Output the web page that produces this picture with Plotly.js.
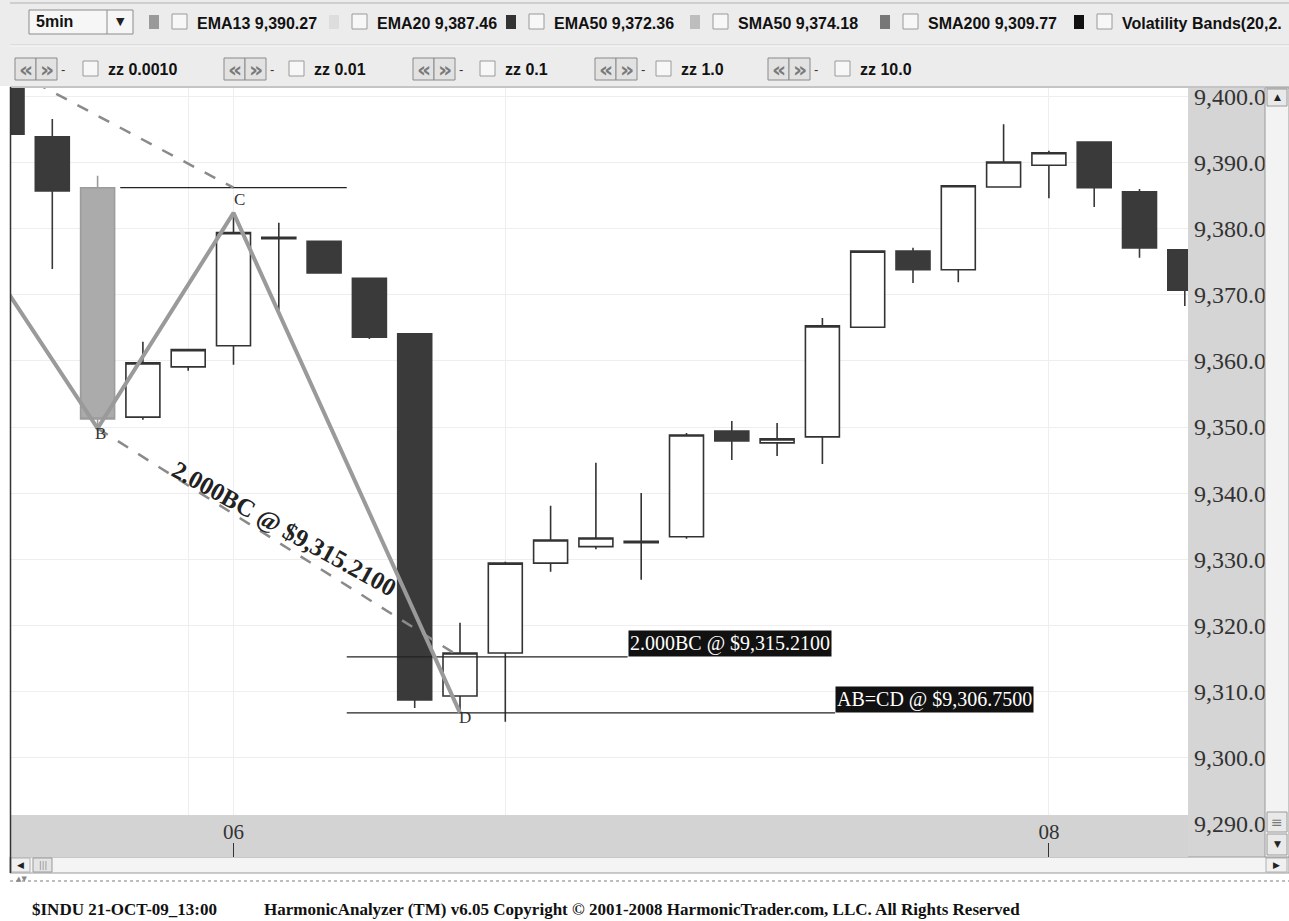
<!DOCTYPE html>
<html>
<head>
<meta charset="utf-8">
<script src="https://cdn.plot.ly/plotly-3.0.1.min.js"></script>
<style>
html,body{margin:0;padding:0;background:#ffffff;overflow:hidden;}
#chart{width:1289px;height:921px;}
</style>
</head>
<body>
<div id="chart"></div>
<script>
// ---------------- DATA ----------------
const barIndex = [0,1,2,3,4,5,6,7,8,9,10,11,12,13,14,15,16,17,18,19,20,21,22,23,24,25,26];
const openPx  = [9403.0,9393.9,9386.2,9351.5,9359.1,9362.3,9378.5,9378.1,9372.5,9364.1,9309.3,9315.8,9329.4,9331.9,9332.5,9333.4,9349.4,9347.6,9348.5,9365.1,9376.6,9373.8,9386.3,9389.6,9393.1,9385.6,9376.8];
const highPx  = [9404.0,9396.6,9388.0,9362.9,9361.7,9382.4,9380.9,9378.1,9372.5,9364.1,9320.4,9329.6,9338.1,9344.6,9340.0,9349.1,9350.9,9350.6,9366.5,9376.6,9377.1,9386.5,9395.8,9391.8,9393.1,9386.0,9376.8];
const lowPx   = [9394.3,9373.9,9349.8,9351.1,9358.5,9359.4,9367.7,9373.2,9363.3,9307.5,9306.7,9305.4,9328.1,9331.5,9326.9,9333.1,9345.0,9345.6,9344.4,9365.1,9371.8,9371.9,9386.3,9384.6,9383.3,9375.6,9368.3];
const closePx = [9394.3,9385.7,9351.2,9359.7,9361.7,9379.4,9378.7,9373.3,9363.6,9308.7,9315.8,9329.4,9332.9,9333.2,9332.7,9348.8,9347.9,9348.2,9365.3,9376.6,9373.8,9386.5,9390.1,9391.5,9386.2,9377.1,9370.7];
const highlightBar = 2;

const timeTickBars = [5, 23];
const timeTickLabels = ['06', '08'];
const extraGridBars = [4, 11];
const priceTicks = [9290,9300,9310,9320,9330,9340,9350,9360,9370,9380,9390,9400];

// harmonic pattern pivots
const pivotNames  = ['A', 'B', 'C', 'D'];
const pivotBars   = [-5, 2, 5, 10];
const pivotPrices = [9422.5, 9349.8, 9382.4, 9306.75];

// dashed guide lines
const upperGuideBars = [-5, 5];
const upperGuidePrices = [9422.5, 9386.2];
const lowerGuideBars = [2, 10];
const lowerGuidePrices = [9349.8, 9315.21];

// level lines
const topLevelBars = [2.5, 7.5];
const topLevelPrice = 9386.2;
const bcLevelBars = [7.5, 13.7];
const bcLevelPrice = 9315.21;
const abcdLevelBars = [7.5, 18.28];
const abcdLevelPrice = 9306.75;
const bcLabel = '2.000BC @ $9,315.2100';
const abcdLabel = 'AB=CD @ $9,306.7500';

// toolbar texts
const intervalLabel = '5min';
const indicatorNames  = ['EMA13', 'EMA20', 'EMA50', 'SMA50', 'SMA200', 'Volatility Bands(20,2.'];
const indicatorValues = ['9,390.27', '9,387.46', '9,372.36', '9,374.18', '9,309.77', ''];
const zigzagLabels = ['zz 0.0010', 'zz 0.01', 'zz 0.1', 'zz 1.0', 'zz 10.0'];
const footerLeft = '$INDU 21-OCT-09_13:00';
const footerRight = 'HarmonicAnalyzer (TM) v6.05 Copyright \u00A9 2001-2008 HarmonicTrader.com, LLC. All Rights Reserved';

// ---------------- LAYOUT GEOMETRY ----------------
const W = 1289, H = 921;
const L = 10, R = 1188, T = 88, B = 857;
const BAND_TOP = 815;
const X0PX = 7, PXBAR = 45.3;
const Y9400 = 96.5, PXUNIT = 6.61;
const yAt = py => 9400 - (py - Y9400) / PXUNIT;
const xr = [(L - X0PX) / PXBAR, (R - X0PX) / PXBAR];
const yr = [yAt(B), yAt(T)];

const fx = x => (x - L) / (R - L);
const fy = y => (B - y) / (B - T);

const shapes = [];
const annotations = [];

function rect(x0, y0, x1, y1, fill, lineColor, lw, layer) {
  shapes.push({type:'rect', xref:'paper', yref:'paper',
    x0:fx(x0), x1:fx(x1), y0:fy(y1), y1:fy(y0),
    fillcolor:fill, line:{color:lineColor || fill, width:(lw == null ? 1 : lw)},
    layer: layer || 'below'});
}
function seg(x0, y0, x1, y1, color, lw, dash, layer) {
  shapes.push({type:'line', xref:'paper', yref:'paper',
    x0:fx(x0), x1:fx(x1), y0:fy(y0), y1:fy(y1),
    line:{color:color, width:lw, dash:dash || 'solid'}, layer: layer || 'below'});
}
function label(x, y, txt, o) {
  o = o || {};
  annotations.push({xref:'paper', yref:'paper', x:fx(x), y:fy(y), text:txt,
    showarrow:false, xanchor:o.xanchor || 'left', yanchor:'middle',
    font:{family:o.family || 'Liberation Sans', size:o.size || 16, color:o.color || '#111'}});
}

// ---- toolbar ----
rect(0, 0, W, 86, '#ececec', '#ececec', 0);
seg(10, 3, W, 3, '#b0b0b0', 1);
seg(10, 45, W, 45, '#cfcfcf', 1);
seg(10, 46, W, 46, '#fafafa', 1);
seg(10, 87, W, 87, '#8a8a8a', 1);

// row 1
const ROW1 = 22;
rect(29, 10, 133, 34, '#f6f6f6', '#8c8c8c', 1);
seg(107, 10, 107, 34, '#8c8c8c', 1);
label(120, ROW1, '\u25BC', {xanchor:'center', size:11, color:'#222', family:'DejaVu Sans'});
label(34, ROW1, '<b>' + intervalLabel + '</b>', {size:16});

const indicatorColors = ['#9a9a9a', '#dddddd', '#333333', '#bdbdbd', '#777777', '#111111'];
const indicatorTextX = [195, 375, 552, 736, 926, 1120];
for (let i = 0; i < indicatorNames.length; i++) {
  const tx = indicatorTextX[i];
  rect(tx - 46, 15, tx - 36, 29, indicatorColors[i], indicatorColors[i], 0);
  rect(tx - 23, 14, tx - 8, 29, '#f7f7f7', '#9a9a9a', 1);
  const t = indicatorValues[i] ? indicatorNames[i] + ' ' + indicatorValues[i] : indicatorNames[i];
  label(tx, ROW1 + 1, '<b>' + t + '</b>', {size:16});
}

// row 2
const ROW2 = 69;
const zzButtonX = [15, 224, 413, 595, 768];
const zzTextX = [106, 312, 503, 679, 858];
for (let i = 0; i < zigzagLabels.length; i++) {
  const bx = zzButtonX[i];
  rect(bx, 58, bx + 21, 80, '#e2e2e2', '#8a8a8a', 1);
  rect(bx + 21, 58, bx + 42, 80, '#e2e2e2', '#8a8a8a', 1);
  label(bx + 10.5, ROW2, '<b>\u00AB</b>', {xanchor:'center', size:22, color:'#7a7a7a', family:'DejaVu Sans'});
  label(bx + 31.5, ROW2, '<b>\u00BB</b>', {xanchor:'center', size:22, color:'#7a7a7a', family:'DejaVu Sans'});
  label(bx + 44, ROW2 + 1, '-', {size:13, color:'#333'});
  const tx = zzTextX[i];
  rect(tx - 23, 61, tx - 8, 76, '#f7f7f7', '#9a9a9a', 1);
  label(tx, ROW2, '<b>' + zigzagLabels[i] + '</b>', {size:16});
}

// ---- right price panel & scrollbars ----
rect(R, T, 1265, B, '#d5d5d5', '#d5d5d5', 0);
rect(1265, T, W, B, '#f3f3f3', '#9a9a9a', 1, 'above');
rect(1267, 89, 1287, 106, '#e9e9e9', '#9a9a9a', 1, 'above');
label(1277, 97, '\u25B2', {xanchor:'center', size:9, color:'#222', family:'DejaVu Sans'});
rect(1267, 812, 1287, 832, '#e9e9e9', '#9a9a9a', 1, 'above');
label(1277, 822, '\u2261', {xanchor:'center', size:14, color:'#777', family:'DejaVu Sans'});
rect(1267, 834, 1287, 855, '#e9e9e9', '#9a9a9a', 1, 'above');
label(1277, 844, '\u25BC', {xanchor:'center', size:9, color:'#222', family:'DejaVu Sans'});

// bottom scrollbar
rect(L, B, W, 873, '#f4f4f4', '#9a9a9a', 1);
rect(11, 858, 30, 872, '#f0f0f0', '#b0b0b0', 1);
label(20, 865, '\u25C0', {xanchor:'center', size:9, color:'#222', family:'DejaVu Sans'});
rect(33, 858, 52, 872, '#e4e4e4', '#9a9a9a', 1);
label(42.5, 865, '|||', {xanchor:'center', size:8, color:'#888', family:'DejaVu Sans'});
rect(1266, 858, 1287, 872, '#f0f0f0', '#b0b0b0', 1);
label(1276, 865, '\u25B6', {xanchor:'center', size:9, color:'#222', family:'DejaVu Sans'});

// divider
seg(L, 881, W, 881, '#a8a8a8', 1.5, 'dot');
label(14, 879, '\u25B2\u25BC', {size:7, color:'#888', family:'DejaVu Sans'});

// left frame
seg(10.5, T - 1, 10.5, 873, '#333333', 1.5, 'solid', 'above');

// footer
label(30, 909, '<b>' + footerLeft + '</b>', {size:17, family:'Liberation Serif', color:'#111'});
label(262, 909, '<b>' + footerRight + '</b>', {size:17, family:'Liberation Serif', color:'#111'});

// x band (between grid & traces)
shapes.push({type:'rect', xref:'x', yref:'y', layer:'between',
  x0:xr[0], x1:xr[1], y0:yr[0], y1:yAt(BAND_TOP),
  fillcolor:'#d3d3d3', line:{width:0}});

// ---------------- TRACES ----------------
const keep = barIndex.map((b, i) => i).filter(i => barIndex[i] !== highlightBar);
const hi = barIndex.indexOf(highlightBar);
const pick = (arr, idx) => idx.map(i => arr[i]);

const traces = [];
traces.push({
  type:'candlestick', x:pick(barIndex, keep),
  open:pick(openPx, keep), high:pick(highPx, keep), low:pick(lowPx, keep), close:pick(closePx, keep),
  increasing:{line:{color:'#333333', width:1.6}, fillcolor:'#ffffff'},
  decreasing:{line:{color:'#3a3a3a', width:1.6}, fillcolor:'#3a3a3a'},
  whiskerwidth:0, hoverinfo:'skip', showlegend:false
});
traces.push({
  type:'candlestick', x:[barIndex[hi]],
  open:[openPx[hi]], high:[highPx[hi]], low:[lowPx[hi]], close:[closePx[hi]],
  increasing:{line:{color:'#9c9c9c', width:1.6}, fillcolor:'#ababab'},
  decreasing:{line:{color:'#9c9c9c', width:1.6}, fillcolor:'#ababab'},
  whiskerwidth:0, hoverinfo:'skip', showlegend:false
});
// level lines
traces.push({type:'scatter', mode:'lines', x:topLevelBars, y:[topLevelPrice, topLevelPrice],
  line:{color:'#222', width:1.2}, hoverinfo:'skip', showlegend:false});
traces.push({type:'scatter', mode:'lines', x:bcLevelBars, y:[bcLevelPrice, bcLevelPrice],
  line:{color:'#222', width:1.3}, hoverinfo:'skip', showlegend:false});
traces.push({type:'scatter', mode:'lines', x:abcdLevelBars, y:[abcdLevelPrice, abcdLevelPrice],
  line:{color:'#222', width:1.3}, hoverinfo:'skip', showlegend:false});
// dashed guides
traces.push({type:'scatter', mode:'lines', x:upperGuideBars, y:upperGuidePrices,
  line:{color:'#8a8a8a', width:2.5, dash:'12px,12px'}, hoverinfo:'skip', showlegend:false});
traces.push({type:'scatter', mode:'lines', x:lowerGuideBars, y:lowerGuidePrices,
  line:{color:'#8a8a8a', width:2.5, dash:'12px,12px'}, hoverinfo:'skip', showlegend:false});
// zigzag pattern
traces.push({type:'scatter', mode:'lines', x:pivotBars, y:pivotPrices,
  line:{color:'#9a9a9a', width:4}, hoverinfo:'skip', showlegend:false});

// ---- in-chart annotations ----
const pivotShift = {B:[3, -5], C:[6, 13], D:[5, -5]};
for (let i = 0; i < pivotNames.length; i++) {
  const s = pivotShift[pivotNames[i]];
  if (!s) continue;
  annotations.push({xref:'x', yref:'y', x:pivotBars[i], y:pivotPrices[i], text:pivotNames[i],
    showarrow:false, xanchor:'center', yanchor:'middle', xshift:s[0], yshift:s[1],
    font:{family:'Liberation Serif', size:17, color:'#333'}});
}
annotations.push({xref:'x', yref:'y', x:bcLevelBars[1], y:bcLevelPrice, text:bcLabel,
  showarrow:false, xanchor:'left', yanchor:'bottom', bgcolor:'#111111', borderpad:1,
  font:{family:'Liberation Serif', size:20, color:'#ffffff'}});
annotations.push({xref:'x', yref:'y', x:abcdLevelBars[1], y:abcdLevelPrice, text:abcdLabel,
  showarrow:false, xanchor:'left', yanchor:'bottom', bgcolor:'#111111', borderpad:1,
  font:{family:'Liberation Serif', size:20, color:'#ffffff'}});
// rotated projection label along the lower guide
annotations.push({xref:'x', yref:'y', x:(284 - X0PX) / PXBAR, y:yAt(529), text:'<b>' + bcLabel + '</b>',
  showarrow:false, textangle:29, xanchor:'center', yanchor:'middle',
  font:{family:'Liberation Serif', size:25, color:'#222'}});

const layout = {
  width:W, height:H,
  margin:{l:L, r:W - R, t:T, b:H - B, pad:0},
  paper_bgcolor:'#ffffff', plot_bgcolor:'#ffffff',
  font:{family:'Liberation Sans', color:'#111'},
  showlegend:false,
  boxgap:0.25, boxgroupgap:0,
  xaxis:{
    range:xr, fixedrange:true, rangeslider:{visible:false},
    tickmode:'array', tickvals:timeTickBars, ticktext:timeTickLabels,
    ticks:'inside', ticklen:14, tickwidth:1, tickcolor:'#333',
    ticklabelstandoff:-40,
    tickfont:{family:'Liberation Serif', size:21, color:'#333'},
    showgrid:true, gridcolor:'#eeeeee', gridwidth:1,
    minor:{tickmode:'array', tickvals:extraGridBars, showgrid:true, gridcolor:'#eeeeee', ticks:''},
    zeroline:false, showline:false
  },
  yaxis:{
    range:yr, fixedrange:true, side:'right',
    tickmode:'array', tickvals:priceTicks,
    ticktext:priceTicks.map(v => v.toLocaleString('en-US', {minimumFractionDigits:1, maximumFractionDigits:1})),
    ticks:'', ticklabelstandoff:5,
    tickfont:{family:'Liberation Serif', size:24, color:'#333'},
    showgrid:true, gridcolor:'#eeeeee', gridwidth:1,
    zeroline:false, showline:false
  },
  shapes:shapes,
  annotations:annotations
};

Plotly.newPlot('chart', traces, layout, {displayModeBar:false, staticPlot:true});
</script>
</body>
</html>
